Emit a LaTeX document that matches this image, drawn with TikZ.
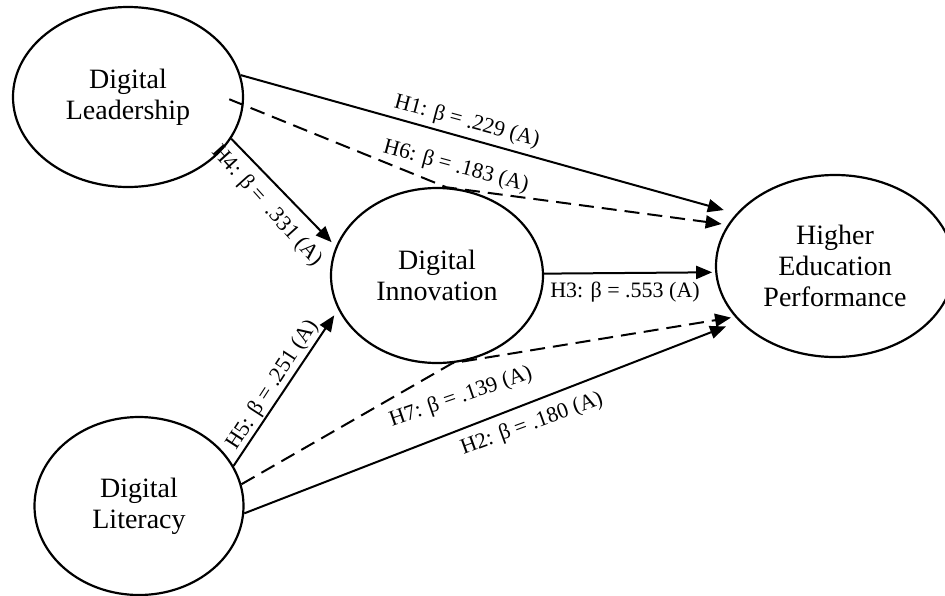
\documentclass[tikz,border=0pt]{standalone}
\usepackage{fontspec}
\setmainfont{Liberation Serif}
\usetikzlibrary{shapes.geometric,arrows.meta}
\begin{document}
\begin{tikzpicture}[x=1pt,y=-1pt,
  construct/.style={draw, ellipse, line width=2.2pt, inner sep=0pt, align=center,
    font=\fontsize{28}{31}\selectfont},
  link/.style={line width=2pt, -{Triangle[length=16pt,width=13pt]}},
  dashlink/.style={link, dash pattern=on 15pt off 8pt},
  lbl/.style={font=\fontsize{22}{24}\selectfont, inner sep=0pt}]
\useasboundingbox (0,0) rectangle (945,595);

\node[construct, minimum width=230pt, minimum height=180pt] (DL) at (128,97) {Digital\\Leadership};
\node[construct, minimum width=212pt, minimum height=175pt] (DI) at (437,275.5) {Digital\\Innovation};
\node[construct, minimum width=238pt, minimum height=182pt] (HEP) at (835,266) {Higher\\Education\\Performance};
\node[construct, minimum width=209pt, minimum height=178pt] (DLit) at (139,506) {Digital\\Literacy};

\draw[link, shorten >=13pt] (DL.11) -- (HEP.152);
\draw[dashlink, shorten <=-15.5pt, shorten >=6pt] (DL.-4) -- (DI.84) -- (HEP.159);
\draw[link, shorten >=6pt] (DL.-22) -- (DI.164);
\draw[link, shorten >=3pt] (DI.1) -- (HEP.183);
\draw[link, shorten >=7pt] (DLit.23) -- (DI.199);
\draw[dashlink, shorten >=4pt] (DLit.12) -- (DI.-80) -- (HEP.207);
\draw[link, shorten >=14pt] (DLit.-4) -- (HEP.210);

\node[lbl, rotate=-15] (l1) at (467,122) {H1: β = .229 (A)};
\node[lbl, rotate=-15] (l6) at (456,167) {H6: β = .183 (A)};
\node[lbl, rotate=-48] (l4) at (267,206) {H4: β =\ \ .331 (A)};
\node[lbl, rotate=57] (l5) at (273,385) {H5: β = .251 (A)};
\node[lbl] (l3) at (625,292) {H3: β = .553 (A)};
\node[lbl, rotate=19] (l7) at (461,397) {H7: β = .139 (A)};
\node[lbl, rotate=20] (l2) at (532,424) {H2: β = .180 (A)};
\end{tikzpicture}
\end{document}
